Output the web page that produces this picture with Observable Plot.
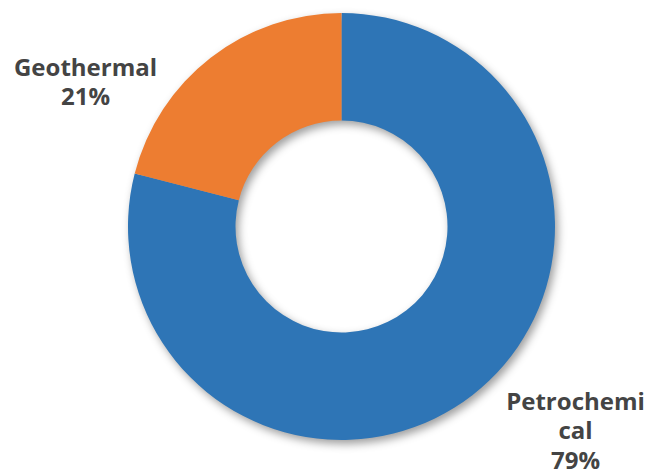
<!DOCTYPE html>
<html><head><meta charset="utf-8">
<script src="https://cdn.jsdelivr.net/npm/d3@7"></script>
<script src="https://cdn.jsdelivr.net/npm/@observablehq/plot@0.6"></script>
<style>body{margin:0;background:#fff;} #chart svg{display:block;}</style>
</head><body><div id="chart"></div>
<script>
// Data
const categories = ["Petrochemical", "Geothermal"];
const shares = [79, 21];
const labelTexts = ["Petrochemi\ncal\n79%", "Geothermal\n21%"];
const sliceColors = ["#2E75B6", "#ED7D31"];

const data = categories.map((c, i) => ({category: c, value: shares[i], label: labelTexts[i]}));

// Layout (not data)
const W = 651, H = 475;
const cx = 341.5, cy = 226.5, outerR = 213.5, innerR = 106;
const labelPos = {Petrochemical: [575, 388], Geothermal: [85, 54]};

const pieMark = (index, scales, values, dims) => {
  const svgNS = "http://www.w3.org/2000/svg";
  const g = document.createElementNS(svgNS, "g");
  g.setAttribute("transform", `translate(${cx},${cy})`);
  g.setAttribute("style", "filter: drop-shadow(3px 4px 4px rgba(0,0,0,0.38));");
  const arcs = d3.pie().sort(null).value(d => d.value)(data);
  const arc = d3.arc().innerRadius(innerR).outerRadius(outerR);
  for (const a of arcs) {
    const p = document.createElementNS(svgNS, "path");
    p.setAttribute("d", arc(a));
    p.setAttribute("fill", scales.color(a.data.category));
    g.appendChild(p);
  }
  return g;
};

const chart = Plot.plot({
  width: W,
  height: H,
  margin: 0,
  x: {type: "identity", axis: null},
  y: {type: "identity", axis: null},
  color: {domain: categories, range: sliceColors},
  style: {fontFamily: "'Open Sans', sans-serif", background: "#fff"},
  marks: [
    pieMark,
    Plot.text(data, {
      x: d => labelPos[d.category][0],
      y: d => labelPos[d.category][1],
      text: "label",
      textAnchor: "middle",
      lineAnchor: "top",
      lineHeight: 1.24,
      fontSize: 24,
      fontWeight: 700,
      fill: "#444444"
    })
  ]
});
document.getElementById("chart").appendChild(chart);
</script>
</body></html>
